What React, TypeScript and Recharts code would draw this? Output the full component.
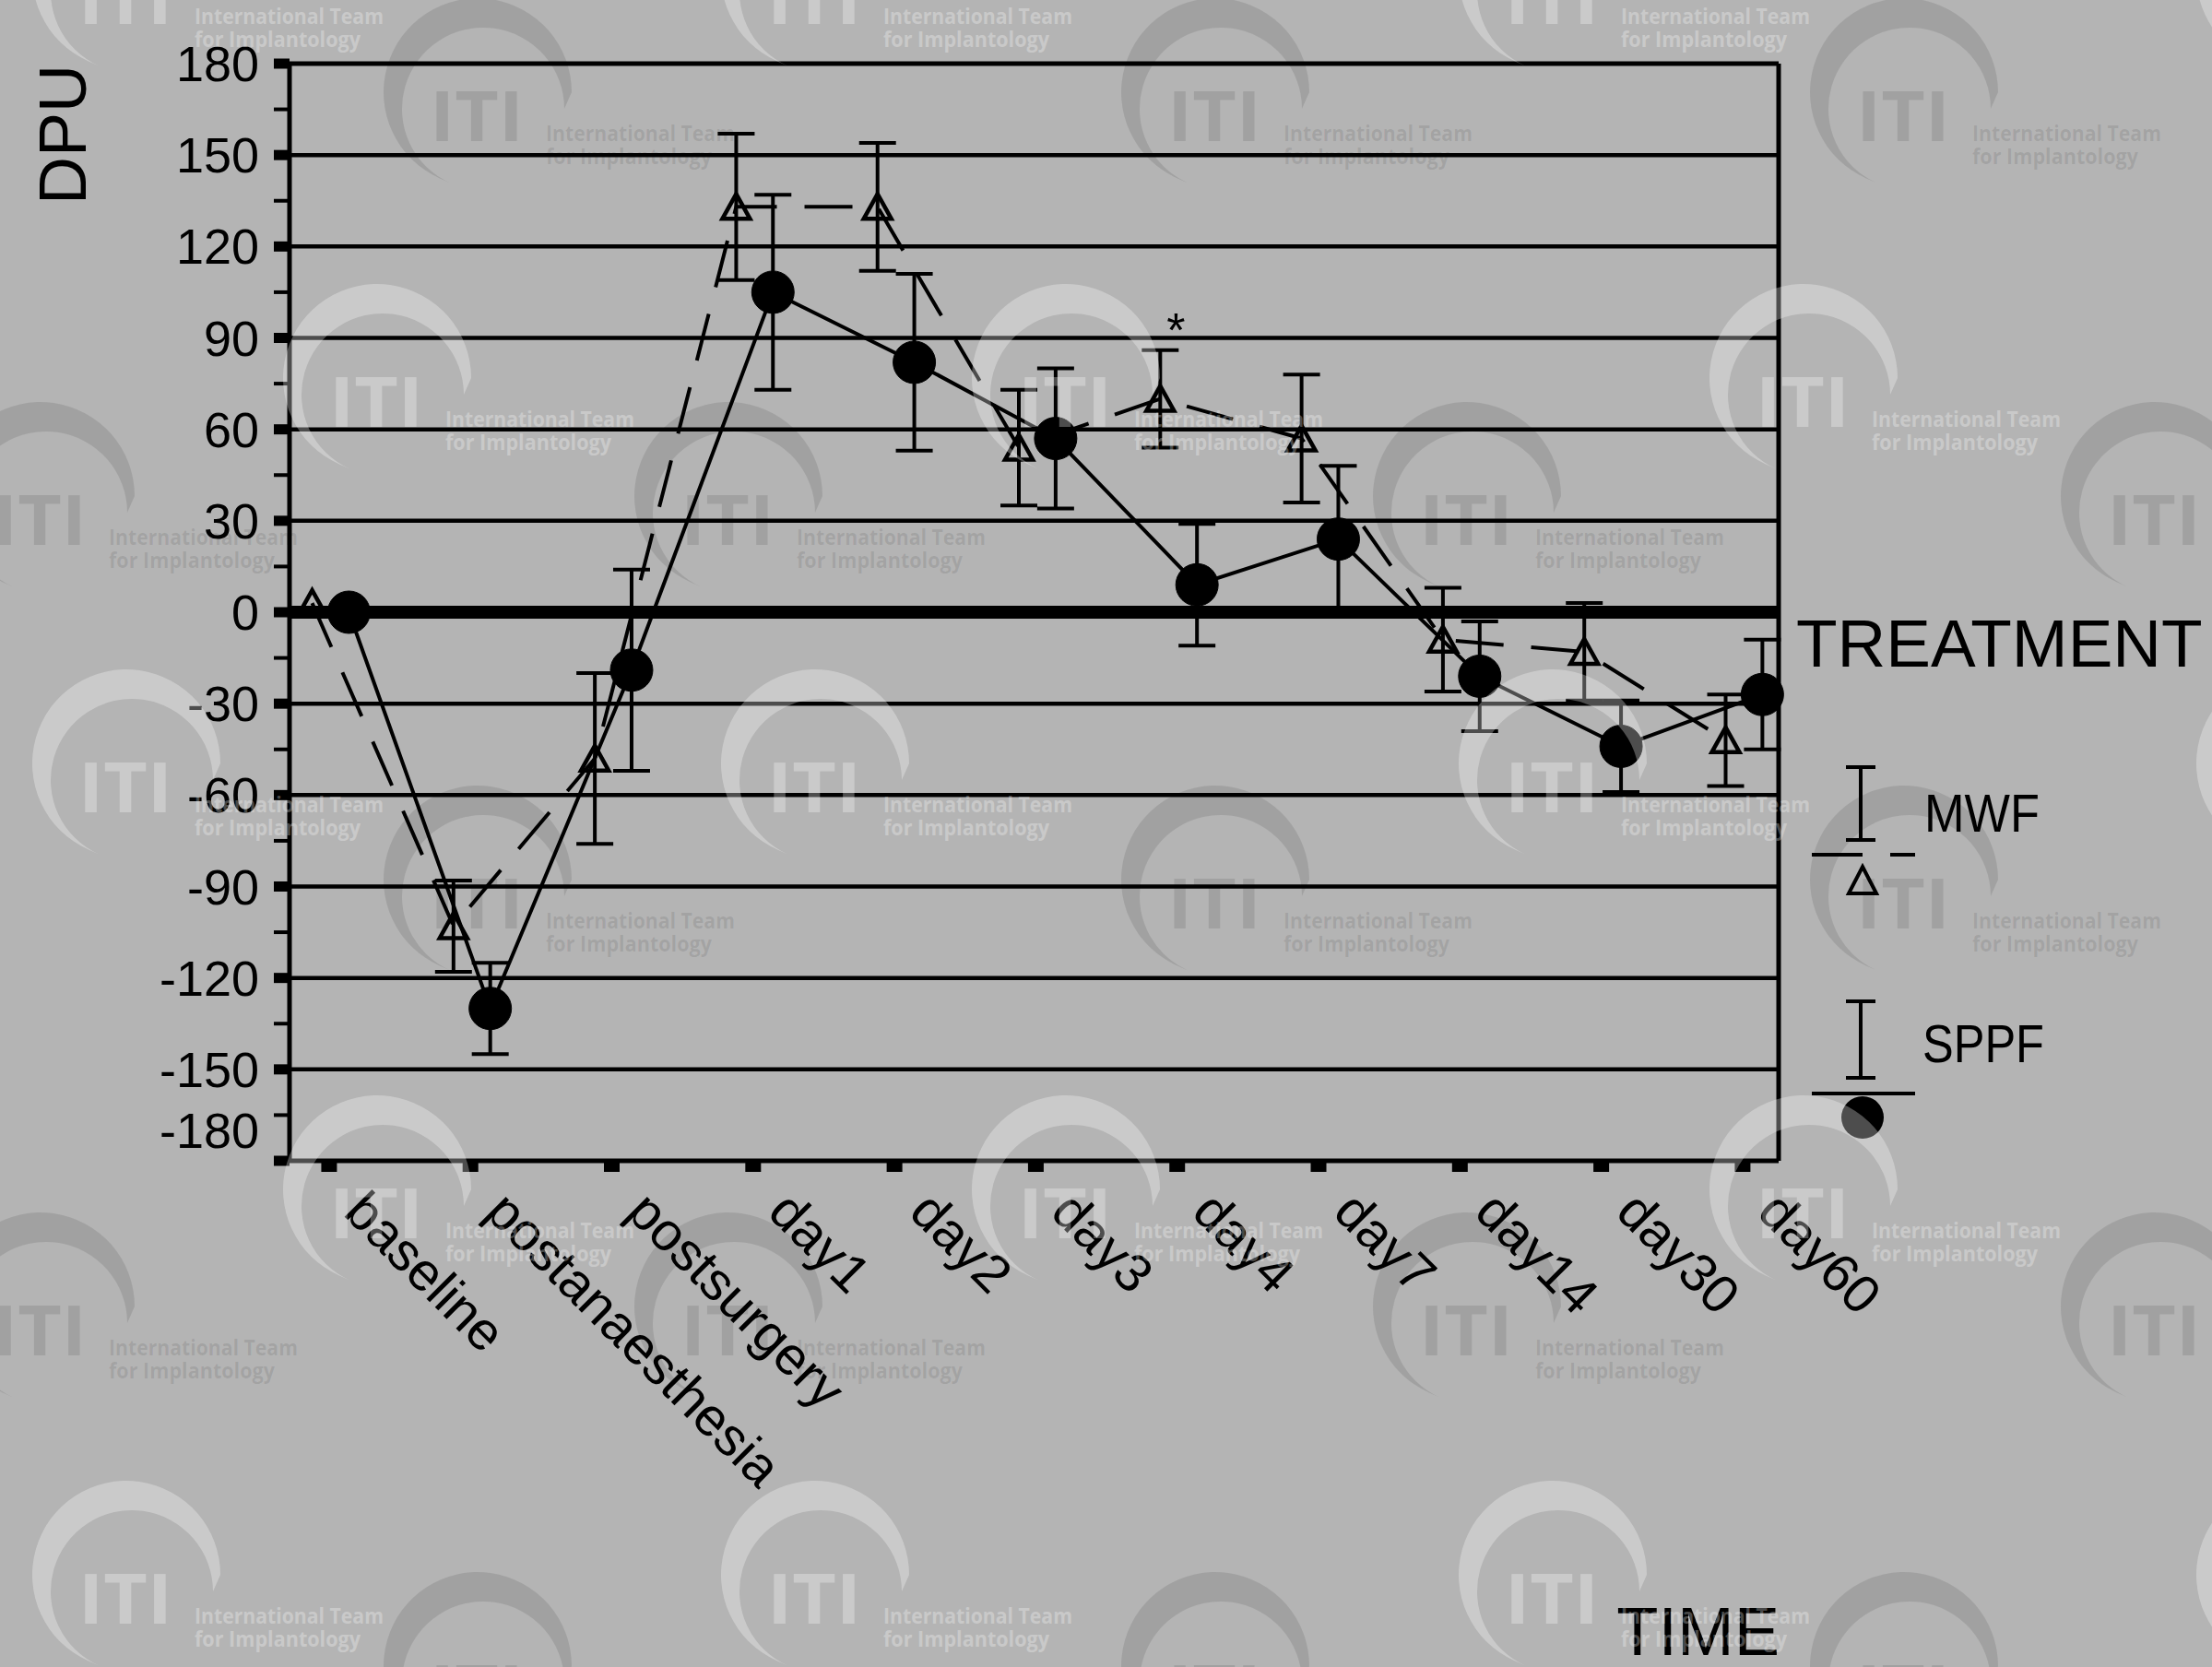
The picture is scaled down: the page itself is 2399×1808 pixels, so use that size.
import React from 'react';
import { LineChart, Line, XAxis, YAxis, ErrorBar, ReferenceLine, LabelList } from 'recharts';

const categories = [
  'baseline',
  'postanaesthesia',
  'postsurgery',
  'day1',
  'day2',
  'day3',
  'day4',
  'day7',
  'day14',
  'day30',
  'day60',
];

// MWF group (mean +/- error)
const mwfMean = [3, -103, -48, 133, 133, 54, 70, 57, -9, -13, -42];
const mwfErr = [0, 15, 28, 24, 21, 19, 16, 21, 17, 16, 15];
const mwfNote = ['', '', '', '', '', '', '*', '', '', '', ''];

// SPPF group (mean +/- error)
const sppfMean = [0, -130, -19, 105, 82, 57, 9, 24, -21, -44, -27];
const sppfErr = [0, 15, 33, 32, 29, 23, 20, 24, 18, 15, 18];

const seriesNames = ['MWF', 'SPPF'];

const yTicks = [
  180, 165, 150, 135, 120, 105, 90, 75, 60, 45, 30, 15, 0,
  -15, -30, -45, -60, -75, -90, -105, -120, -135, -150, -165, -180,
];
const gridValues = [150, 120, 90, 60, 30, -30, -60, -90, -120, -150];

const X_MIN = -0.28;
const X_MAX = 10.255;
// the two groups sit a little either side of each time point
const MWF_SHIFT = -0.12;
const SPPF_SHIFT = 0.14;

const BG = '#b4b4b4';
const FONT = "'Liberation Sans', Arial, Helvetica, sans-serif";
const WM_FONT = "'Open Sans', 'Noto Sans', sans-serif";

const xTicks = categories.map((_, i) => i);
const mwfData = categories.map((name, i) => ({
  name,
  x: i + MWF_SHIFT,
  y: mwfMean[i],
  err: mwfErr[i],
  note: mwfNote[i],
}));
const sppfData = categories.map((name, i) => ({
  name,
  x: i + SPPF_SHIFT,
  y: sppfMean[i],
  err: sppfErr[i],
}));

// watermark logo anchors (start of the text block)
const wmLight = [
  [211, 26], [958, 26], [1758, 26], [2558, 26],
  [-317, 463], [483, 463], [1230, 463], [2030, 463],
  [211, 881], [958, 881], [1758, 881], [2558, 881],
  [-317, 1343], [483, 1343], [1230, 1343], [2030, 1343],
  [211, 1761], [958, 1761], [1758, 1761], [2558, 1761],
];
const wmDark = [
  [-207, 153], [592, 153], [1392, 153], [2139, 153],
  [118, 591], [864, 591], [1665, 591], [2411, 591],
  [-207, 1007], [592, 1007], [1392, 1007], [2139, 1007],
  [118, 1470], [864, 1470], [1665, 1470], [2411, 1470],
  [-207, 1860], [592, 1860], [1392, 1860], [2139, 1860],
];

function YTick({ x, y, payload }: any) {
  const v = payload.value;
  const major = v % 30 === 0;
  // the bottom label sits a bit higher than its tick
  const shift = v === -180 ? -33 : 0;
  return (
    <g>
      <line x1={x - 17} x2={x} y1={y} y2={y} stroke="#000" strokeWidth={major ? 11 : 4} />
      {major && (
        <text x={x - 33} y={y + shift + 19} textAnchor="end" fontSize={54} fontFamily={FONT} fill="#000">
          {String(v)}
        </text>
      )}
    </g>
  );
}

function XTick({ x, y, payload }: any) {
  const label = categories[payload.value];
  return (
    <g>
      <line x1={x} x2={x} y1={y} y2={y + 12} stroke="#000" strokeWidth={17} />
      <text
        transform={`translate(${x + 14}, ${y + 58}) rotate(45)`}
        fontSize={58}
        fontFamily={FONT}
        fill="#000"
      >
        {label}
      </text>
    </g>
  );
}

const DpuLabel = ({ viewBox }: any) => {
  if (!viewBox) return null;
  const x = viewBox.x + 93;
  const y = viewBox.y + 77;
  return (
    <text x={x} y={y} transform={`rotate(-90, ${x}, ${y})`} textAnchor="middle" fontSize={72} fontFamily={FONT} fill="#000">
      DPU
    </text>
  );
};

const TimeLabel = ({ viewBox }: any) => {
  if (!viewBox) return null;
  return (
    <text x={viewBox.x + viewBox.width + 1} y={viewBox.y + 536} textAnchor="end" fontSize={74} fontFamily={FONT} fill="#000">
      TIME
    </text>
  );
};

const TreatmentLabel = ({ viewBox }: any) => {
  if (!viewBox) return null;
  return (
    <text x={viewBox.x + viewBox.width + 19} y={viewBox.y + 59} fontSize={73} fontFamily={FONT} fill="#000">
      TREATMENT
    </text>
  );
};

const renderNote = (props: any) => {
  const { value } = props;
  if (!value) return null;
  const px = props.viewBox ? props.viewBox.x : props.x;
  const py = props.viewBox ? props.viewBox.y : props.y;
  return (
    <text key={`note-${props.index}`} x={px + 17} y={py - 57} textAnchor="middle" fontSize={52} fontFamily={FONT} fill="#000">
      {value}
    </text>
  );
};

const renderTriangle = (props: any) => {
  const { cx, cy, index } = props;
  if (cx == null || cy == null) return <g key={`tri-${index}`} />;
  const d = `M ${cx} ${cy - 14} L ${cx + 15} ${cy + 13} L ${cx - 15} ${cy + 13} Z`;
  return (
    <path key={`tri-${index}`} d={d} fill="none" stroke="#000" strokeWidth={4.5} strokeDasharray="none" strokeLinejoin="miter" />
  );
};

function SeriesKey() {
  return (
    <g fontFamily={FONT} fill="#000">
      {/* MWF: error bar, dashed line, open triangle */}
      <line x1={2018} x2={2018} y1={832} y2={911} stroke="#000" strokeWidth={4} />
      <line x1={2002} x2={2034} y1={832} y2={832} stroke="#000" strokeWidth={4} />
      <line x1={2002} x2={2034} y1={911} y2={911} stroke="#000" strokeWidth={4} />
      <line x1={1965} x2={2077} y1={927} y2={927} stroke="#000" strokeWidth={4} strokeDasharray="55 30" />
      <path d="M 2020 940 L 2035 969 L 2005 969 Z" fill="none" stroke="#000" strokeWidth={4} />
      <text x={2087} y={902} fontSize={58} textLength={125} lengthAdjust="spacingAndGlyphs">{seriesNames[0]}</text>
      {/* SPPF: error bar, solid line, filled circle */}
      <line x1={2018} x2={2018} y1={1086} y2={1169} stroke="#000" strokeWidth={4} />
      <line x1={2002} x2={2034} y1={1086} y2={1086} stroke="#000" strokeWidth={4} />
      <line x1={2002} x2={2034} y1={1169} y2={1169} stroke="#000" strokeWidth={4} />
      <line x1={1965} x2={2077} y1={1186} y2={1186} stroke="#000" strokeWidth={4} />
      <circle cx={2020} cy={1212} r={23} fill="#000" />
      <text x={2085} y={1152} fontSize={58} textLength={132} lengthAdjust="spacingAndGlyphs">{seriesNames[1]}</text>
    </g>
  );
}

function Logo({ x, y, fill }: { x: number; y: number; fill: string }) {
  const cx = x - 74;
  const cy = y - 53;
  const R = 102;
  const r = 88;
  const icx = cx + 6;
  const icy = cy + 18;
  const a1 = (114 * Math.PI) / 180;
  const pt = (px: number, py: number, rad: number, a: number) =>
    `${(px + rad * Math.cos(a)).toFixed(1)} ${(py + rad * Math.sin(a)).toFixed(1)}`;
  const d = `M ${pt(cx, cy, R, 0)} A ${R} ${R} 0 1 0 ${pt(cx, cy, R, a1)} L ${pt(icx, icy, r, a1)} A ${r} ${r} 0 1 1 ${pt(icx, icy, r, 0)} Z`;
  return (
    <g fill={fill}>
      <path d={d} />
      <text x={x - 126} y={y} fontSize={75} fontWeight={700} fontFamily={WM_FONT} textLength={102} lengthAdjust="spacingAndGlyphs">
        ITI
      </text>
      <text x={x} y={y} fontSize={24} fontWeight={700} fontFamily={WM_FONT} textLength={205} lengthAdjust="spacingAndGlyphs">
        International Team
      </text>
      <text x={x} y={y + 25} fontSize={24} fontWeight={700} fontFamily={WM_FONT} textLength={180} lengthAdjust="spacingAndGlyphs">
        for Implantology
      </text>
    </g>
  );
}

export default function App() {
  return (
    <div
      style={{
        position: 'absolute',
        left: 0,
        top: 0,
        width: 2399,
        height: 1808,
        background: BG,
        overflow: 'hidden',
      }}
    >
      <LineChart width={2399} height={1808} margin={{ top: 69, right: 470, bottom: 0, left: 0 }}>
        <XAxis
          type="number"
          dataKey="x"
          domain={[X_MIN, X_MAX]}
          ticks={xTicks}
          interval={0}
          height={549}
          tickSize={0}
          tickMargin={0}
          tickLine={false}
          axisLine={{ stroke: '#000', strokeWidth: 5 }}
          tick={<XTick />}
          label={<TimeLabel />}
        />
        <YAxis
          type="number"
          domain={[-180, 180]}
          ticks={yTicks}
          interval={0}
          width={314}
          tickSize={0}
          tickMargin={0}
          tickLine={false}
          axisLine={{ stroke: '#000', strokeWidth: 5 }}
          tick={<YTick />}
          label={<DpuLabel />}
        />
        {gridValues.map((v) => (
          <ReferenceLine key={`grid-${v}`} y={v} stroke="#000" strokeWidth={4.5} />
        ))}
        <ReferenceLine y={180} stroke="#000" strokeWidth={5} />
        <ReferenceLine x={X_MAX} stroke="#000" strokeWidth={5} />
        <ReferenceLine y={0} stroke="#000" strokeWidth={14} label={<TreatmentLabel />} />

        <Line
          data={mwfData}
          dataKey="y"
          name={seriesNames[0]}
          stroke="#000"
          strokeWidth={4}
          strokeDasharray="52 30"
          dot={renderTriangle}
          activeDot={false}
          isAnimationActive={false}
        >
          <ErrorBar dataKey="err" direction="y" width={20} stroke="#000" strokeWidth={4} />
          <LabelList dataKey="note" content={renderNote} />
        </Line>
        <Line
          data={sppfData}
          dataKey="y"
          name={seriesNames[1]}
          stroke="#000"
          strokeWidth={4}
          dot={{ r: 23, fill: '#000', stroke: '#000', strokeWidth: 1 }}
          activeDot={false}
          isAnimationActive={false}
        >
          <ErrorBar dataKey="err" direction="y" width={20} stroke="#000" strokeWidth={4} />
        </Line>
      </LineChart>

      <svg
        width={2399}
        height={1808}
        style={{ position: 'absolute', left: 0, top: 0, pointerEvents: 'none' }}
      >
        <SeriesKey />
        {wmDark.map(([x, y]) => (
          <Logo key={`d-${x}-${y}`} x={x} y={y} fill="rgba(0,0,0,0.1)" />
        ))}
        {wmLight.map(([x, y]) => (
          <Logo key={`l-${x}-${y}`} x={x} y={y} fill="rgba(255,255,255,0.3)" />
        ))}
      </svg>
    </div>
  );
}
